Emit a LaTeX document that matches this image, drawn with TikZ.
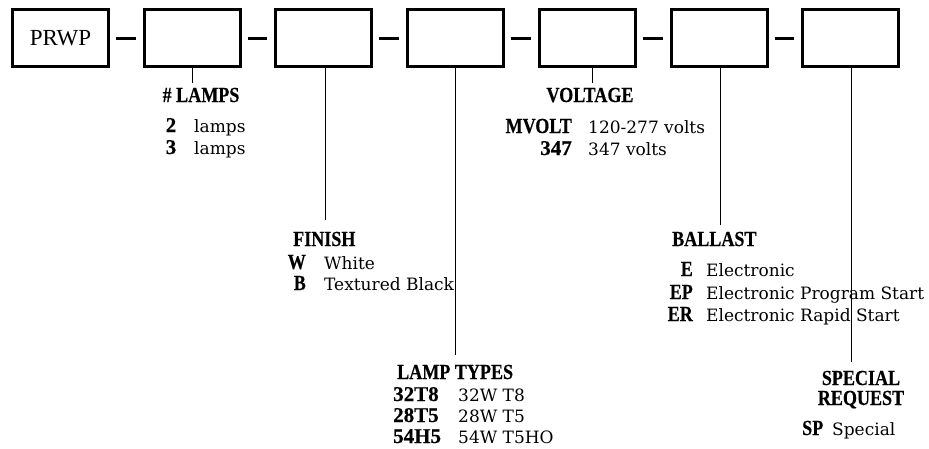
\documentclass[tikz,border=0pt]{standalone}
\usepackage{fontspec}
\setmainfont{DejaVu Serif}
\newfontfamily\hdfont[FakeStretch=0.84,FakeBold=0.4]{Liberation Serif}
\newfontfamily\numfont[FakeBold=0.4]{Liberation Serif}
\newfontfamily\tmfont{Liberation Serif}
\begin{document}
\begin{tikzpicture}[x=1pt,y=-1pt,
  box/.style={draw, line width=3pt, minimum width=96pt, minimum height=57pt, outer sep=0pt, inner sep=0pt},
  linkdash/.style={line width=3pt, shorten <=7.5pt, shorten >=8.5pt},
  lead/.style={line width=1pt},
  hd/.style={font=\hdfont\bfseries\fontsize{21.5}{21.5}\selectfont, inner sep=0pt},
  nd/.style={font=\numfont\bfseries\fontsize{21}{21}\selectfont, inner sep=0pt},
  tx/.style={font=\fontsize{17}{17}\selectfont, inner sep=0pt}]
\useasboundingbox (0,0) rectangle (929,448);
% boxes
\node[box] (b0) at (60.5,38) {\tmfont\fontsize{23}{23}\selectfont PRWP};
\node[box] (b1) at (192.2,38) {};
\node[box] (b2) at (323.9,38) {};
\node[box] (b3) at (455.6,38) {};
\node[box] (b4) at (587.3,38) {};
\node[box] (b5) at (719,38) {};
\node[box] (b6) at (850.7,38) {};
% dashes
\draw[linkdash] (b0.east) -- (b1.west);
\draw[linkdash] (b1.east) -- (b2.west);
\draw[linkdash] (b2.east) -- (b3.west);
\draw[linkdash] (b3.east) -- (b4.west);
\draw[linkdash] (b4.east) -- (b5.west);
\draw[linkdash] (b5.east) -- (b6.west);
% leads
\coordinate (l1) at (192,83);
\coordinate (l2) at (325,220);
\coordinate (l3) at (455,355);
\coordinate (l4) at (592,83);
\coordinate (l5) at (720,225);
\coordinate (l6) at (851,362);
\draw[lead] (b1.south -| l1) -- (l1);
\draw[lead] (b2.south -| l2) -- (l2);
\draw[lead] (b3.south -| l3) -- (l3);
\draw[lead] (b4.south -| l4) -- (l4);
\draw[lead] (b5.south -| l5) -- (l5);
\draw[lead] (b6.south -| l6) -- (l6);
% # LAMPS
\node[hd, anchor=base] (hlamps) at (201,102) {\# LAMPS};
\node[nd, anchor=base] (c2) at (171,132) {2};
\node[tx, anchor=base west] (d2) at (194,132) {lamps};
\node[nd, anchor=base] (c3) at (171,154) {3};
\node[tx, anchor=base west] (d3) at (194,154) {lamps};
% VOLTAGE
\node[hd, anchor=base] (hvolt) at (590,102) {VOLTAGE};
\node[hd, anchor=base east] (cmv) at (572,133) {MVOLT};
\node[tx, anchor=base west] (dmv) at (588,133) {120-277 volts};
\node[nd, anchor=base east] (c347) at (572,155) {347};
\node[tx, anchor=base west] (d347) at (588,155) {347 volts};
% FINISH
\node[hd, anchor=base west] (hfin) at (293,246) {FINISH};
\node[hd, anchor=base east] (cw) at (306,269) {W};
\node[tx, anchor=base west] (dw) at (324,269) {White};
\node[hd, anchor=base east] (cb) at (306,290) {B};
\node[tx, anchor=base west] (db) at (324,290) {Textured Black};
% LAMP TYPES
\node[hd, anchor=base west] (hlt) at (397,379) {LAMP TYPES};
\node[nd, anchor=base west] (c32) at (393,401) {32T8};
\node[tx, anchor=base west] (d32) at (458,401) {32W T8};
\node[nd, anchor=base west] (c28) at (393,422) {28T5};
\node[tx, anchor=base west] (d28) at (458,422) {28W T5};
\node[nd, anchor=base west] (c54) at (393,443) {54H5};
\node[tx, anchor=base west] (d54) at (458,443) {54W T5HO};
% BALLAST
\node[hd, anchor=base west] (hbal) at (672,246) {BALLAST};
\node[hd, anchor=base east] (ce) at (693,276) {E};
\node[tx, anchor=base west] (de) at (706,276) {Electronic};
\node[hd, anchor=base east] (cep) at (693,299) {EP};
\node[tx, anchor=base west] (dep) at (706,299) {Electronic Program Start};
\node[hd, anchor=base east] (cer) at (693,321) {ER};
\node[tx, anchor=base west] (der) at (706,321) {Electronic Rapid Start};
% SPECIAL REQUEST
\node[hd, anchor=base] (hsp1) at (861,385) {SPECIAL};
\node[hd, anchor=base] (hsp2) at (861,405) {REQUEST};
\node[hd, anchor=base west] (csp) at (802,435) {SP};
\node[tx, anchor=base west] (dsp) at (832,435) {Special};
\end{tikzpicture}
\end{document}
